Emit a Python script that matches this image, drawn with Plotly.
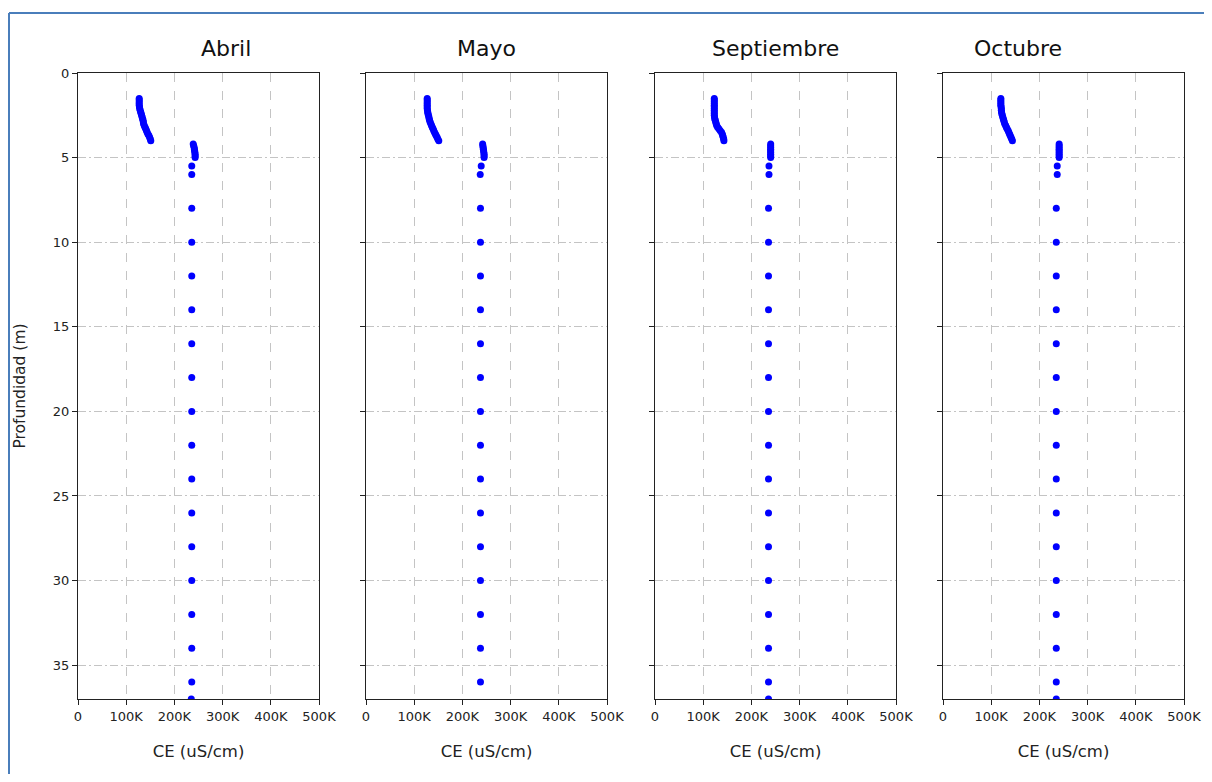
import plotly.graph_objects as go

months = ["Abril", "Mayo", "Septiembre", "Octubre"]

# Shallow readings (depth in m, CE in uS/cm)
shallow_depth = [1.5, 1.6, 1.7, 1.8, 1.9, 2.0, 2.1, 2.2, 2.3, 2.4, 2.5, 2.6, 2.7,
                 2.8, 2.9, 3.0, 3.1, 3.2, 3.3, 3.4, 3.5, 3.6, 3.7, 3.8, 3.9, 4.0]
shallow_abril = [127000, 127000, 127000, 127000, 127000, 127500, 128000, 129000, 130000,
                 131000, 132000, 133000, 134000, 135000, 135500, 136000, 137500, 139000,
                 140500, 142000, 143500, 145000, 147000, 148500, 150000, 151000]
shallow_mayo = [127000, 127000, 127000, 127000, 127000, 127000, 127000, 127500, 128000,
                128500, 129500, 130500, 131000, 132000, 133000, 134500, 136000, 137500,
                139000, 140500, 142000, 144000, 145500, 147500, 149000, 151000]
shallow_sept = [123000, 123000, 123000, 123000, 123000, 123000, 123000, 123000, 123000,
                123000, 123000, 123500, 124000, 125000, 126000, 127000, 128000, 130000,
                132500, 135000, 138000, 139500, 140500, 141500, 142500, 143000]
shallow_oct = [120000, 120000, 120000, 120000, 120000, 120500, 121000, 121000, 121500,
               122000, 123000, 124000, 125000, 126000, 127000, 128000, 130000, 131500,
               133000, 135000, 136500, 138000, 139500, 141000, 142500, 144000]

# Deep readings
deep_depth = [4.2, 4.3, 4.4, 4.5, 4.6, 4.7, 4.8, 4.9, 5.0, 5.5, 6, 8, 10, 12, 14, 16,
              18, 20, 22, 24, 26, 28, 30, 32, 34, 36, 37]
deep_abril = [239000, 240000, 241000, 241500, 242000, 242500, 243000, 243000, 243000,
              236000, 236000, 236000, 236000, 236000, 236000, 236000, 236000, 236000,
              236000, 236000, 236000, 236000, 236000, 236000, 236000, 236000, 235000]
deep_mayo = [242000, 242500, 243000, 243500, 244000, 244500, 245000, 245000, 245000,
             239000, 237000, 237500, 237500, 237500, 237500, 237500, 237500, 237500,
             237500, 237500, 237500, 237500, 237500, 237500, 237500, 237500]
deep_sept = [240000, 240000, 240000, 240000, 240000, 240000, 240000, 240000, 240000,
             236500, 236500, 235500, 235500, 235500, 235500, 235500, 235500, 235500,
             235500, 235500, 235500, 235500, 235500, 235500, 235500, 235500, 235500]
deep_oct = [241000, 241000, 241000, 241000, 241000, 241000, 241000, 241000, 241000,
            237000, 237000, 235000, 235000, 235000, 235000, 235000, 235000, 235000,
            235000, 235000, 235000, 235000, 235000, 235000, 235000, 235000, 235000]

x_tickvals = [0, 100000, 200000, 300000, 400000, 500000]
x_ticktext = ["0", "100K", "200K", "300K", "400K", "500K"]
y_tickvals = [0, 5, 10, 15, 20, 25, 30, 35]

series = [
    (shallow_abril, deep_abril),
    (shallow_mayo, deep_mayo),
    (shallow_sept, deep_sept),
    (shallow_oct, deep_oct),
]

# page has an 8px body margin; figure occupies page x 8..1204, y 8..774
OFF = 8
W, H = 1196, 766
PL, PT = 78, 73          # plot-area left/top in page pixels
PW, PH = 1106, 626       # plot-area size
ML, MT = PL - OFF, PT - OFF
MR = W - ML - PW
MB = H - MT - PH

def px_x(p):
    return (p - PL) / PW

def px_y(p):
    return 1 - (p - PT) / PH

panel_left = [78, 366, 655, 943]
panel_w = 241

fig = go.Figure()
FONT = "DejaVu Sans, Verdana, sans-serif"
grid_col = "#c4c4c4"

for i, (sh, dp) in enumerate(series):
    n = i + 1
    xa = "x" if n == 1 else f"x{n}"
    ya = "y" if n == 1 else f"y{n}"
    fig.add_trace(go.Scatter(
        x=sh + dp,
        y=shallow_depth + deep_depth[:len(dp)],
        mode="markers",
        marker=dict(color="#0000ff", size=7, line=dict(width=0)),
        xaxis=xa, yaxis=ya, showlegend=False, cliponaxis=True,
    ))
    xkey = "xaxis" if n == 1 else f"xaxis{n}"
    ykey = "yaxis" if n == 1 else f"yaxis{n}"
    x0 = px_x(panel_left[i])
    x1 = px_x(panel_left[i] + panel_w)
    fig.update_layout(**{
        xkey: dict(
            domain=[x0, x1], anchor=ya, range=[0, 500000], automargin=False,
            tickvals=x_tickvals, ticktext=x_ticktext,
            showgrid=True, gridcolor=grid_col, griddash="dash", gridwidth=1,
            showline=True, linecolor="#222", linewidth=1, mirror=True,
            ticks="outside", ticklen=5, tickcolor="#222",
            tickfont=dict(family=FONT, size=13, color="#222"),
            zeroline=False,
            title=dict(text="CE (uS/cm)", font=dict(family=FONT, size=16.5, color="#222"),
                       standoff=22),
        ),
        ykey: dict(
            domain=[0, 1], anchor=xa, range=[37, 0], automargin=False,
            tickvals=y_tickvals, showticklabels=(n == 1),
            showgrid=True, gridcolor=grid_col, griddash="8px,3px,2px,3px", gridwidth=1,
            showline=True, linecolor="#222", linewidth=1, mirror=True,
            ticks="outside", ticklen=5, tickcolor="#222",
            tickfont=dict(family=FONT, size=13, color="#222"),
            zeroline=False,
        ),
    })
    fig.add_annotation(
        x=(x0 + x1) / 2, y=1, xref="paper", yref="paper",
        yanchor="bottom", yshift=10, showarrow=False,
        text=months[i], font=dict(family=FONT, size=22, color="#111"),
    )

fig.update_layout(yaxis_title=dict(text="Profundidad (m)",
                                   font=dict(family=FONT, size=15.5, color="#222"),
                                   standoff=23))

# Document frame: top and left edges only, kept inside the figure
fig.add_shape(type="line", xref="paper", yref="paper",
              x0=px_x(9), x1=px_x(1204), y0=px_y(13), y1=px_y(13),
              line=dict(color="#4a7ebb", width=2), layer="below")
fig.add_shape(type="line", xref="paper", yref="paper",
              x0=px_x(9), x1=px_x(9), y0=px_y(13), y1=px_y(774),
              line=dict(color="#4a7ebb", width=2), layer="below")

fig.update_layout(
    width=W, height=H,
    margin=dict(l=ML, r=MR, t=MT, b=MB, autoexpand=False),
    paper_bgcolor="white", plot_bgcolor="white",
)

fig.write_html("out.html")
